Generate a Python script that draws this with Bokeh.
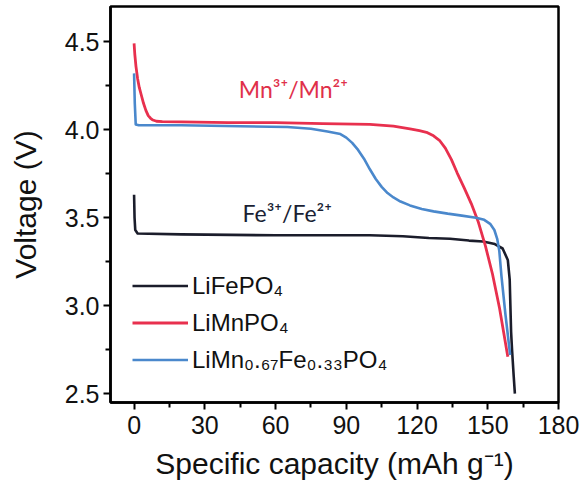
from bokeh.plotting import figure
from bokeh.models import Range1d, FixedTicker, Legend, LegendItem, Label, PrintfTickFormatter
from bokeh.embed import file_html
from bokeh.resources import INLINE

# ---- data ----
x_ticks = [0, 30, 60, 90, 120, 150, 180]
x_minor = [15, 45, 75, 105, 135, 165]
y_ticks = [2.5, 3.0, 3.5, 4.0, 4.5]
y_minor = [2.75, 3.25, 3.75, 4.25]

fe_cap = [0, 0.2, 0.5, 1.5, 20, 60, 100, 114, 125, 134, 142, 148, 153, 156.3, 158.5,
          159.3, 159.6, 159.9, 160.3, 161.0, 161.4, 161.5]
fe_v = [3.63, 3.50, 3.43, 3.41, 3.405, 3.40, 3.40, 3.395, 3.385, 3.38, 3.37, 3.365, 3.35,
        3.325, 3.26, 3.15, 3.00, 2.85, 2.75, 2.60, 2.52, 2.50]

mn_cap = [0, 0.3, 0.8, 1.5, 2.2, 3, 4, 5, 6, 7, 8, 9.5, 12, 20, 40, 60, 80, 100, 110, 117,
          121, 124, 127, 129.5, 132, 134.6, 137, 140, 143, 146, 149, 152, 155, 158.5]
mn_v = [4.49, 4.43, 4.36, 4.29, 4.24, 4.20, 4.15, 4.11, 4.08, 4.065, 4.055, 4.048, 4.046,
        4.045, 4.04, 4.04, 4.035, 4.03, 4.02, 4.005, 3.995, 3.985, 3.965, 3.94, 3.895, 3.83,
        3.755, 3.67, 3.58, 3.475, 3.34, 3.18, 2.985, 2.71]

mix_cap = [0, 0.3, 0.7, 2, 20, 45, 65, 75, 82, 87.5, 90, 92.5, 95, 97.5, 100, 102.5, 105,
           107.5, 110, 113, 117, 122, 127, 133, 139, 145, 148.5, 151, 152.8, 154, 154.9,
           155.8, 157.5, 159.5]
mix_v = [4.32, 4.15, 4.03, 4.025, 4.025, 4.02, 4.015, 4.005, 3.99, 3.975, 3.955, 3.925,
         3.885, 3.835, 3.775, 3.72, 3.675, 3.64, 3.615, 3.592, 3.57, 3.55, 3.536, 3.523,
         3.512, 3.50, 3.488, 3.465, 3.43, 3.38, 3.31, 3.17, 2.95, 2.72]

series_names = ["LiFePO\u2084", "LiMnPO\u2084", "LiMn\u2080.\u2086\u2087Fe\u2080.\u2083\u2083PO\u2084"]
colors = ["#1b1d2b", "#e8304e", "#4a88cc"]

FONT = "Liberation Sans"

p = figure(width=582, height=488, output_backend="svg", toolbar_location=None,
           x_range=Range1d(-10, 180), y_range=Range1d(2.45, 4.7),
           min_border_left=110, min_border_right=24, min_border_top=6, min_border_bottom=86)
p.grid.visible = False
p.background_fill_color = "white"
p.border_fill_color = "white"
p.outline_line_color = "black"
p.outline_line_width = 2.5

p.xaxis.ticker = FixedTicker(ticks=x_ticks, minor_ticks=x_minor)
p.yaxis.ticker = FixedTicker(ticks=y_ticks, minor_ticks=y_minor)
p.yaxis.formatter = PrintfTickFormatter(format="%.1f")

for ax in (p.xaxis[0], p.yaxis[0]):
    ax.axis_line_width = 2.5
    ax.axis_line_color = "black"
    ax.major_tick_out = 7
    ax.major_tick_in = 0
    ax.minor_tick_out = 5
    ax.minor_tick_in = 0
    ax.major_tick_line_width = 2
    ax.minor_tick_line_width = 2
    ax.major_tick_line_color = "black"
    ax.minor_tick_line_color = "black"
    ax.major_label_text_font = FONT
    ax.major_label_text_font_size = "25px"
    ax.major_label_text_color = "#111111"
    ax.axis_label_text_font = FONT
    ax.axis_label_text_font_size = "30px"
    ax.axis_label_text_font_style = "normal"
    ax.axis_label_text_color = "#111111"

p.xaxis.axis_label = "Specific capacity (mAh g\u207b\u00b9)"
p.yaxis.axis_label = "Voltage (V)"
p.xaxis.major_label_standoff = 6
p.xaxis.axis_label_standoff = 10
p.yaxis.major_label_standoff = 4
p.yaxis.axis_label_standoff = 20

r1 = p.line(fe_cap, fe_v, line_color=colors[0], line_width=2.6, line_join="round")
r2 = p.line(mn_cap, mn_v, line_color=colors[1], line_width=2.8, line_join="round")
r3 = p.line(mix_cap, mix_v, line_color=colors[2], line_width=2.6, line_join="round")

legend = Legend(items=[LegendItem(label=series_names[0], renderers=[r1]),
                       LegendItem(label=series_names[1], renderers=[r2]),
                       LegendItem(label=series_names[2], renderers=[r3])],
                location=(22, 24), padding=0, margin=0, spacing=0,
                glyph_width=56, glyph_height=37, label_height=37, label_standoff=4,
                border_line_color=None, background_fill_alpha=0,
                label_text_font=FONT, label_text_font_size="24px",
                label_text_color="#111111")
p.add_layout(legend)

p.add_layout(Label(x=44.4, y=4.234, text="Mn\u00b3\u207a/Mn\u00b2\u207a",
                   text_font="Lato", text_font_size="23px", text_color="#e0304a",
                   text_baseline="middle"))
p.add_layout(Label(x=46, y=3.524, text="Fe\u00b3\u207a/Fe\u00b2\u207a",
                   text_font="Lato", text_font_size="23px", text_color="#1a1f33",
                   text_baseline="middle"))

open("out.html", "w").write(file_html(p, INLINE))
